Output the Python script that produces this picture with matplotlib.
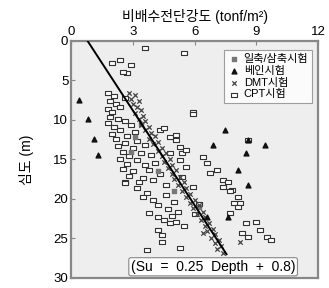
import matplotlib
matplotlib.use("Agg")
import matplotlib.pyplot as plt

plt.rcParams['font.family'] = ['Liberation Sans', 'Noto Sans CJK KR', 'DejaVu Sans']

## CPT results (open squares): undrained shear strength and depth
cpt_su = [3.6, 5.5, 2.4, 2.0, 2.9, 2.7, 2.5, 5.9, 5.9,
          1.8, 2.1, 1.9, 2.2, 1.8, 2.0, 2.4, 2.6,
          1.9, 2.3, 1.8, 2.6, 2.1, 2.9, 2.4, 2.0, 3.1, 2.7,
          2.2, 2.6, 3.2, 2.3, 3.0, 3.6, 2.5, 3.4, 2.8, 3.9, 2.4, 3.2,
          2.7, 3.6, 4.1, 2.5, 3.0, 3.8, 4.3, 2.8, 3.5, 2.6, 3.3, 4.0,
          3.2, 3.7, 4.0, 4.2, 3.5, 4.6, 2.6,
          3.8, 4.2, 4.5, 4.8, 5.1, 4.2, 4.4, 4.4, 3.7, 5.3,
          4.3, 4.5, 4.8, 5.1, 5.3, 5.4, 5.3, 5.1, 5.6, 4.8, 5.4, 5.9, 5.6,
          6.4, 6.6, 6.75, 7.1, 7.4, 7.6, 7.8, 8.1, 8.2, 7.4, 7.7, 7.9, 8.1, 7.7,
          8.5, 9.0, 9.2, 9.5, 9.7, 8.3, 8.6, 8.6,
          4.6, 5.0, 4.7, 5.2, 4.9, 5.5, 6.2, 6.0]
cpt_depth = [0.9, 1.5, 2.4, 2.8, 3.0, 4.1, 3.9, 9.0, 9.2,
             6.6, 7.0, 7.6, 8.0, 8.6, 9.0, 8.4, 7.2,
             9.6, 9.9, 10.4, 10.2, 10.9, 10.7, 11.3, 11.8, 11.5, 12.0,
             12.4, 12.9, 12.7, 13.3, 13.5, 13.2, 14.0, 14.2, 14.6, 14.5, 15.0, 15.1,
             15.6, 15.7, 15.4, 16.2, 16.5, 16.3, 16.8, 17.1, 17.3, 17.8, 17.9, 17.6,
             18.6, 19.2, 20.1, 20.8, 19.8, 19.5, 18.0,
             21.8, 22.3, 22.7, 23.0, 22.9, 23.9, 24.6, 25.4, 26.5, 26.2,
             11.3, 11.0, 12.2, 12.5, 13.4, 14.2, 15.1, 11.9, 13.8, 14.2, 17.2, 18.5, 16.0,
             14.7, 15.4, 16.7, 16.3, 17.6, 17.8, 18.9, 19.7, 20.5, 18.5, 19.0, 20.5, 21.0, 21.8,
             23.0, 22.9, 23.9, 24.8, 25.2, 24.3, 24.8, 12.5,
             18.2, 20.4, 21.3, 21.6, 22.2, 23.4, 20.6, 21.9]

## Vane test results (filled triangles)
vane_su = [0.4, 0.8, 1.1, 1.3, 7.5, 8.6, 6.9, 9.4, 8.5, 8.1, 8.6, 6.6, 7.6]
vane_depth = [7.5, 9.9, 12.4, 14.4, 11.3, 12.5, 13.2, 13.2, 14.2, 16.3, 18.2, 22.3, 22.3]

## DMT results (crosses), packed along the regression line
dmt_su = [2.8, 3.1, 2.9, 3.3, 3.0, 3.2, 3.4, 3.1, 3.5, 3.3, 3.6, 3.4, 3.8, 3.6,
          3.9, 4.1, 3.8, 4.2, 4.0, 4.4, 4.2, 4.6, 4.4, 4.8, 4.5, 4.9, 4.7, 5.1,
          4.9, 5.3, 5.0, 5.5, 5.2, 5.6, 5.4, 5.8, 5.6, 6.0, 5.8, 6.2, 5.9, 6.4,
          6.1, 6.5, 6.3, 6.7, 6.5, 6.9, 6.6, 7.0, 6.8, 7.2, 7.0, 7.3, 7.1, 7.4,
          6.4, 8.2]
dmt_depth = [6.6, 6.9, 7.3, 7.6, 8.0, 8.4, 8.8, 9.1, 9.5, 9.9, 10.2, 10.6, 10.9, 11.3,
             11.7, 12.0, 12.4, 12.8, 13.1, 13.5, 13.9, 14.2, 14.6, 15.0, 15.3, 15.7, 16.1, 16.4,
             16.8, 17.2, 17.5, 17.9, 18.3, 18.6, 19.0, 19.4, 19.7, 20.1, 20.5, 20.8, 21.2, 21.6,
             21.9, 22.3, 22.7, 23.0, 23.4, 23.8, 24.1, 24.5, 24.9, 25.2, 25.6, 26.0, 26.4, 26.8,
             24.3, 25.4]

## Unconfined / triaxial test results (small grey squares)
ucs_su = [2.9, 3.4, 4.2, 5.0, 3.1, 6.2]
ucs_depth = [14.0, 10.5, 16.5, 19.0, 12.2, 21.0]

## Regression line Su = 0.25 Depth + 0.8
fit_depth = [0, 27]
fit_su = [0.25 * d + 0.8 for d in fit_depth]

## wide rectangle marker, like the printed open squares
rect = [(-1.4, -1), (1.4, -1), (1.4, 1), (-1.4, 1), (-1.4, -1)]

fig = plt.figure(figsize=(3.29, 2.88), dpi=100)
ax = fig.add_axes([0.216, 0.035, 0.751, 0.823])
ax.set_facecolor('#eeeeee')

ax.scatter(ucs_su, ucs_depth, marker='s', s=8, color='#777777', label='일축/삼축시험', zorder=3)
ax.scatter(vane_su, vane_depth, marker='^', s=12, color='#111111', label='베인시험', zorder=4)
ax.scatter(dmt_su, dmt_depth, marker='x', s=10, color='#444444', linewidths=0.9, label='DMT시험', zorder=3)
ax.scatter(cpt_su, cpt_depth, marker=rect, s=16, facecolor='white', edgecolor='#333333',
           linewidths=0.8, label='CPT시험', zorder=2)
ax.plot(fit_su, fit_depth, color='black', lw=1.4, zorder=5)

ax.set_xlim(0, 12)
ax.set_ylim(30, 0)
ax.set_xticks([0, 3, 6, 9, 12])
ax.set_yticks([0, 5, 10, 15, 20, 25, 30])
ax.xaxis.tick_top()
ax.xaxis.set_label_position('top')
ax.tick_params(direction='in', length=3, labelsize=9.5, color='#888888', pad=2)
for sp in ax.spines.values():
    sp.set_color('#888888')
    sp.set_linewidth(1.6)

ax.set_xlabel('비배수전단강도 (tonf/m²)', fontsize=10, labelpad=4)
ax.set_ylabel('심도 (m)', fontsize=10, labelpad=14)

leg = ax.legend(loc='upper right', bbox_to_anchor=(0.985, 0.97), fontsize=8, frameon=True,
                fancybox=False, edgecolor='#888888', handletextpad=0.4, handlelength=1.0,
                labelspacing=0.15, borderpad=0.35, borderaxespad=0.2)
leg.get_frame().set_linewidth(0.8)

ax.text(0.575, 0.047, '(Su  =  0.25  Depth  +  0.8)', transform=ax.transAxes, ha='center', va='center',
        fontsize=10, zorder=6,
        bbox=dict(boxstyle='round,pad=0.15', facecolor='white', edgecolor='#888888', lw=0.8))

fig.savefig('out.png', dpi=100)
